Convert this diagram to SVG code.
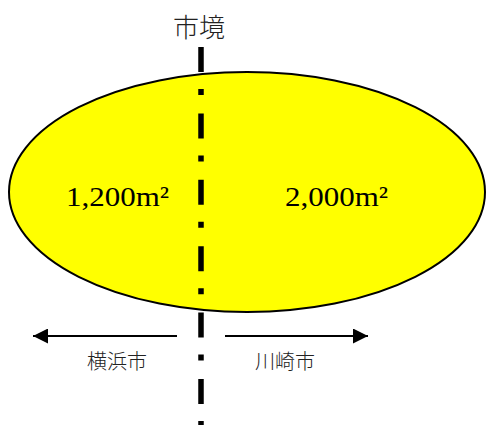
<svg xmlns="http://www.w3.org/2000/svg" width="486" height="425" viewBox="0 0 486 425">
<style>
.cjk{font-family:"Noto Sans CJK JP","Noto Sans CJK SC",sans-serif;font-weight:300;fill:#222;text-anchor:middle}
.num{font-family:"Liberation Serif",serif;font-size:28px;fill:#000;text-anchor:middle}
.arr{stroke:#000;stroke-width:2;fill:none}
</style>
<defs>
<marker id="ah" viewBox="0 0 15 15" refX="15" refY="7.5" markerWidth="15" markerHeight="15" markerUnits="userSpaceOnUse" orient="auto">
<path d="M0,0 L15,7.5 L0,15 Z" fill="#000"/>
</marker>
</defs>
<rect width="486" height="425" fill="#fff"/>
<g id="area">
<ellipse cx="247" cy="192" rx="238" ry="120" fill="#ffff00" stroke="#000" stroke-width="2"/>
<text class="num" x="117.5" y="206" textLength="103" lengthAdjust="spacingAndGlyphs">1,200m²</text>
<text class="num" x="336.5" y="206" textLength="103" lengthAdjust="spacingAndGlyphs">2,000m²</text>
</g>
<g id="boundary">
<line x1="201" y1="47" x2="201" y2="425" stroke="#000" stroke-width="5.5" stroke-dasharray="25 17 6 18.4"/>
<text class="cjk" x="199" y="37" font-size="26">市境</text>
</g>
<g id="connectors">
<line class="arr" x1="177" y1="336" x2="33" y2="336" marker-end="url(#ah)"/>
<line class="arr" x1="225" y1="336" x2="368" y2="336" marker-end="url(#ah)"/>
</g>
<g id="yokohama"><text class="cjk" x="117" y="369" font-size="20">横浜市</text></g>
<g id="kawasaki"><text class="cjk" x="285" y="369" font-size="20">川崎市</text></g>
</svg>
